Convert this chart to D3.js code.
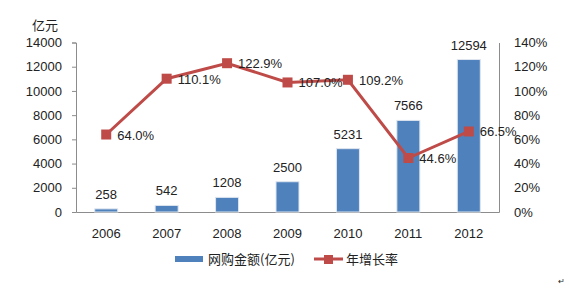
<!DOCTYPE html>
<html>
<head>
<meta charset="utf-8">
<script src="https://cdn.jsdelivr.net/npm/d3@7"></script>
<style>
  body { margin: 0; background: #fff; }
  text { font-family: "Liberation Sans", "Noto Sans CJK SC", sans-serif; fill: #222; }
</style>
</head>
<body>
<svg width="569" height="293"></svg>
<script>
// data
var years = ['2006', '2007', '2008', '2009', '2010', '2011', '2012'];
var amount = [258, 542, 1208, 2500, 5231, 7566, 12594];
var growth = [64.0, 110.1, 122.9, 107.0, 109.2, 44.6, 66.5];
var leftTicks = [0, 2000, 4000, 6000, 8000, 10000, 12000, 14000];
var rightTicks = [0, 20, 40, 60, 80, 100, 120, 140];

var svg = d3.select('svg');
var plotLeft = 76, plotRight = 499, plotTop = 42.5, plotBottom = 212;
var blue = '#4F81BD', red = '#BE4B48', axisCol = '#8c8c8c';

var x = d3.scaleBand().domain(years).range([plotLeft, plotRight]);
var yL = d3.scaleLinear().domain([0, 14000]).range([plotBottom, plotTop]);
var yR = d3.scaleLinear().domain([0, 140]).range([plotBottom, plotTop]);

//left axis
var gL = svg.append('g').attr('transform', 'translate(' + plotLeft + ',0)')
	.call(d3.axisLeft(yL).tickValues(leftTicks).tickSize(4).tickPadding(10).tickFormat(d3.format('d')));
gL.select('.domain').attr('stroke', axisCol);
gL.selectAll('.tick line').attr('stroke', axisCol);
gL.selectAll('text').style('font-size', '13px');

//right axis
var gR = svg.append('g').attr('transform', 'translate(' + plotRight + ',0)')
	.call(d3.axisRight(yR).tickValues(rightTicks).tickSize(0).tickPadding(15)
		.tickFormat(function(d){ return d + '%'; }));
gR.select('.domain').attr('stroke', axisCol);
gR.selectAll('text').style('font-size', '13px');

//bottom axis
var gB = svg.append('g').attr('transform', 'translate(0,' + plotBottom + ')')
	.call(d3.axisBottom(x).tickSize(0).tickPadding(17));
gB.select('.domain').attr('stroke', axisCol);
gB.selectAll('text').style('font-size', '13px');

svg.append('text').attr('x', 32).attr('y', 30).style('font-size', '13px')
	.style('font-family', '"Noto Sans CJK SC"').text('亿元');

//bars
var bw = 23;
svg.selectAll('rect.bar').data(amount).enter().append('rect')
	.attr('class', 'bar')
	.attr('x', function(d, i){ return x(years[i]) + x.bandwidth()/2 - bw/2; })
	.attr('y', function(d){ return yL(d); })
	.attr('width', bw)
	.attr('height', function(d){ return plotBottom - yL(d); })
	.attr('fill', blue)
	.attr('stroke', '#dfe6ef').attr('stroke-width', 1);

svg.selectAll('text.blab').data(amount).enter().append('text')
	.attr('class', 'blab')
	.attr('x', function(d, i){ return x(years[i]) + x.bandwidth()/2; })
	.attr('y', function(d){ return yL(d) - 10; })
	.attr('text-anchor', 'middle')
	.style('font-size', '13px')
	.text(function(d){ return d; });

//growth line
var cx = function(d, i){ return x(years[i]) + x.bandwidth()/2; };
var line = d3.line().x(cx).y(function(d){ return yR(d); });
svg.append('path').datum(growth)
	.attr('d', line)
	.attr('fill', 'none')
	.attr('stroke', red)
	.attr('stroke-width', 3);

svg.selectAll('rect.mk').data(growth).enter().append('rect')
	.attr('class', 'mk')
	.attr('x', function(d, i){ return cx(d, i) - 5; })
	.attr('y', function(d){ return yR(d) - 5; })
	.attr('width', 10).attr('height', 10)
	.attr('fill', red);

svg.selectAll('text.glab').data(growth).enter().append('text')
	.attr('class', 'glab')
	.attr('x', function(d, i){ return cx(d, i) + 11; })
	.attr('y', function(d){ return yR(d) + 5; })
	.style('font-size', '13px')
	.text(function(d){ return d.toFixed(1) + '%'; });

//legend
var lg = svg.append('g');
lg.append('rect').attr('x', 175).attr('y', 256).attr('width', 28).attr('height', 6).attr('fill', blue);
lg.append('text').attr('x', 208).attr('y', 264).style('font-size', '13px')
	.style('font-family', '"Noto Sans CJK SC"').text('网购金额(亿元)');
lg.append('line').attr('x1', 314).attr('x2', 343).attr('y1', 259).attr('y2', 259)
	.attr('stroke', red).attr('stroke-width', 3);
lg.append('rect').attr('x', 324).attr('y', 255).attr('width', 9).attr('height', 9).attr('fill', red);
lg.append('text').attr('x', 346).attr('y', 264).style('font-size', '13px')
	.style('font-family', '"Noto Sans CJK SC"').text('年增长率');

svg.append('text').attr('x', 558).attr('y', 284).style('font-size', '8px').attr('fill', '#999').text('↵');
</script>
</body>
</html>
